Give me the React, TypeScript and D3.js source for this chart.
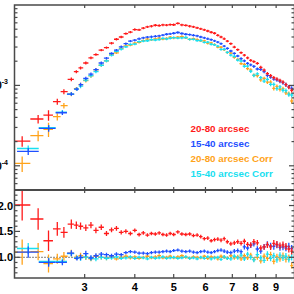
import * as d3 from "d3";

const W = 294;
const H = 294;
const FLUX_UNIT = 1e-3;

// energies (keV) shared by every spectrum above ~2.9 keV
const energyGrid = [
  2.93, 3.02, 3.11, 3.2, 3.3, 3.4, 3.5, 3.6, 3.7, 3.8, 3.9,
  4.0, 4.1, 4.2, 4.3, 4.4, 4.5, 4.6, 4.7, 4.8, 4.9,
  5.0, 5.12, 5.24, 5.36, 5.48, 5.6, 5.72, 5.84, 5.96,
  6.08, 6.2, 6.32, 6.44, 6.56, 6.68, 6.8,
  6.94, 7.08, 7.22, 7.36, 7.5, 7.64, 7.78, 7.92,
  8.08, 8.24, 8.4, 8.56, 8.72, 8.88, 9.04, 9.2, 9.36, 9.52, 9.68, 9.84,
];

// wide low-energy bins (different for the two extraction regions)
const lowEnergy2080 = [2.096, 2.297, 2.438, 2.564, 2.663, 2.779, 2.86];
const lowEnergy1540 = [2.17, 2.44, 2.64, 2.78, 2.87];

// 20-80 arcsec (red)
const lowFluxRed = [0.203, 0.382, 0.428, 0.627, 0.835, 1.19, 1.48];
const lowRatioRed = [2.01, 1.74, 1.32, 1.55, 1.48, 1.64, 1.62];
const lowErrRed = [0.15, 0.12, 0.15, 0.085, 0.07, 0.055, 0.045];
const fluxRed = [
  1.65, 1.9, 2.2, 2.42, 2.75, 2.95, 3.35, 3.75, 4.0, 4.4, 4.6,
  4.95, 4.9, 5.15, 5.35, 5.45, 5.6, 5.55, 5.65, 5.62, 5.7,
  5.68, 5.9, 5.65, 5.58, 5.45, 5.35, 5.2, 5.05, 4.9,
  4.75, 4.58, 4.45, 4.2, 4.0, 3.8, 3.55,
  3.3, 3.0, 2.78, 2.55, 2.38, 2.2, 2.05, 1.98,
  1.88, 1.68, 1.55, 1.4, 1.32, 1.25, 1.2, 1.15, 1.1, 1.02, 0.95, 0.87,
];
const ratioRed = [
  1.6, 1.57, 1.62, 1.52, 1.58, 1.46, 1.53, 1.56, 1.48, 1.5, 1.46,
  1.52, 1.44, 1.47, 1.43, 1.46, 1.45, 1.47, 1.44, 1.43, 1.46,
  1.44, 1.49, 1.45, 1.44, 1.45, 1.42, 1.43, 1.4, 1.36,
  1.37, 1.32, 1.34, 1.35, 1.33, 1.36, 1.3,
  1.26, 1.28, 1.3, 1.27, 1.31, 1.25, 1.24, 1.3,
  1.28, 1.18, 1.2, 1.24, 1.2, 1.27, 1.25, 1.22, 1.24, 1.21, 1.16, 1.12,
];

// 15-40 arcsec (blue)
const lowFluxBlue = [0.151, 0.292, 0.457, 0.781, 0.9];
const lowRatioBlue = [1.1, 0.9, 0.9, 1.08, 0.98];
const lowErrBlue = [0.1, 0.09, 0.06, 0.05, 0.045];
const fluxBlue = [
  1.02, 1.22, 1.38, 1.57, 1.9, 2.18, 2.5, 2.75, 3.02, 3.3, 3.55,
  3.65, 3.8, 3.9, 3.98, 4.02, 4.08, 4.12, 4.22, 4.33, 4.38,
  4.45, 4.55, 4.42, 4.33, 4.28, 4.2, 4.12, 4.0, 3.9,
  3.8, 3.7, 3.58, 3.45, 3.3, 3.08, 2.88,
  2.68, 2.5, 2.32, 2.15, 2.02, 1.88, 1.8, 1.72,
  1.6, 1.58, 1.48, 1.33, 1.27, 1.2, 1.17, 1.12, 1.08, 1.02, 0.96, 0.92,
];
const ratioBlue = [
  1.0, 1.07, 0.99, 1.03, 1.06, 1.05, 1.03, 1.06, 1.05, 1.09, 1.11,
  1.1, 1.08, 1.08, 1.07, 1.09, 1.1, 1.1, 1.11, 1.12, 1.11,
  1.13, 1.14, 1.12, 1.11, 1.12, 1.1, 1.09, 1.11, 1.12,
  1.1, 1.09, 1.11, 1.13, 1.14, 1.12, 1.1,
  1.09, 1.12, 1.13, 1.11, 1.2, 1.18, 1.23, 1.26,
  1.16, 1.12, 1.2, 1.25, 1.22, 1.21, 1.24, 1.19, 1.2, 1.18, 1.21, 1.17,
];

// 20-80 arcsec Corr (orange)
const lowFluxOrange = [0.107, 0.237, 0.285, 0.408, 0.56, 0.78, 0.91];
const lowRatioOrange = [1.1, 1.11, 0.88, 0.97, 1.02, 1.08, 1.0];
const lowErrOrange = [0.22, 0.15, 0.2, 0.1, 0.08, 0.06, 0.05];
const fluxOrange = [
  1.02, 1.15, 1.31, 1.56, 1.78, 2.02, 2.42, 2.54, 2.88, 3.11, 3.17,
  3.36, 3.43, 3.6, 3.77, 3.68, 3.78, 3.87, 3.76, 3.85, 3.98,
  3.89, 3.99, 4.05, 3.9, 3.74, 3.82, 3.72, 3.58, 3.57,
  3.35, 3.38, 3.22, 2.99, 2.98, 2.78, 2.57,
  2.52, 2.23, 2.1, 1.87, 1.83, 1.62, 1.56, 1.34,
  1.32, 1.17, 1.22, 1.1, 1.1, 0.92, 0.97, 0.89, 0.91, 0.81, 0.79, 0.64,
];
const ratioOrange = [
  1.03, 1.0, 0.97, 1.02, 1.0, 0.98, 1.01, 0.97, 1.0, 1.02, 0.99,
  1.01, 0.98, 1.0, 1.02, 0.99, 1.01, 1.03, 0.99, 1.0, 1.02,
  0.99, 1.01, 1.03, 1.0, 0.98, 1.01, 1.0, 0.99, 1.02,
  0.98, 1.01, 1.0, 0.97, 1.02, 1.0, 0.98,
  1.03, 0.99, 1.01, 0.97, 1.03, 0.99, 1.04, 0.96,
  1.0, 0.93, 1.02, 0.98, 1.05, 0.92, 1.01, 0.97, 1.03, 0.96, 0.99, 0.84,
];

// 15-40 arcsec Corr (cyan)
const lowFluxCyan = [0.164, 0.298, 0.465, 0.78, 0.9];
const lowRatioCyan = [1.17, 0.92, 0.92, 1.07, 0.99];
const lowErrCyan = [0.09, 0.08, 0.06, 0.05, 0.045];
const fluxCyan = [
  0.98, 1.16, 1.32, 1.48, 1.78, 2.02, 2.38, 2.65, 2.82, 3.02, 3.23,
  3.26, 3.5, 3.56, 3.59, 3.72, 3.67, 3.72, 3.84, 3.77, 3.86,
  3.93, 3.87, 3.89, 3.94, 3.74, 3.74, 3.61, 3.62, 3.43,
  3.45, 3.25, 3.19, 3.08, 2.8, 2.81, 2.57,
  2.38, 2.3, 2.06, 2.01, 1.73, 1.74, 1.5, 1.33,
  1.39, 1.25, 1.13, 1.19, 1.03, 1.03, 0.91, 0.96, 0.87, 0.86, 0.77, 0.76,
];
const ratioCyan = [
  0.99, 1.01, 0.98, 0.97, 1.0, 0.98, 0.99, 1.01, 0.98, 0.99, 1.01,
  0.98, 1.0, 0.99, 0.97, 1.0, 0.98, 0.99, 1.01, 0.98, 0.99,
  1.0, 0.98, 0.99, 1.01, 0.98, 0.99, 0.97, 1.0, 0.98,
  1.01, 0.97, 0.99, 1.0, 0.96, 1.01, 0.98,
  0.97, 1.02, 0.99, 1.04, 0.97, 1.06, 1.0, 0.95,
  1.05, 0.99, 0.94, 1.06, 0.98, 1.03, 0.95, 1.04, 0.99, 1.02, 0.96, 1.0,
];

const labels = ["20-80 arcsec", "15-40 arcsec", "20-80 arcsec Corr", "15-40 arcsec Corr"];
const colors = ["#ff1a1a", "#1f50ff", "#ffa31a", "#19e0f0"];
const xTickValues = [3, 4, 5, 6, 7, 8, 9];

type Pt = { e: number; lo: number; hi: number; v: number; r: number; err: number };

function buildSeries(
  lowE: number[], lowF: number[], lowR: number[], lowErr: number[],
  gridF: number[], gridR: number[]
): Pt[] {
  const e = [...lowE, ...energyGrid];
  const f = [...lowF, ...gridF].map((d) => d * FLUX_UNIT);
  const r = [...lowR, ...gridR];
  return e.map((d, i) => {
    const prev = i > 0 ? e[i - 1] : d - (e[i + 1] - d);
    const next = i < e.length - 1 ? e[i + 1] : d + (d - e[i - 1]);
    // counting-statistics error for the narrow bins
    const err = i < lowE.length ? lowErr[i] : 0.028 * Math.sqrt(4e-3 / f[i]);
    return { e: d, lo: (prev + d) / 2, hi: (next + d) / 2, v: f[i], r: r[i], err };
  });
}

const series = [
  buildSeries(lowEnergy2080, lowFluxRed, lowRatioRed, lowErrRed, fluxRed, ratioRed),
  buildSeries(lowEnergy1540, lowFluxBlue, lowRatioBlue, lowErrBlue, fluxBlue, ratioBlue),
  buildSeries(lowEnergy2080, lowFluxOrange, lowRatioOrange, lowErrOrange, fluxOrange, ratioOrange),
  buildSeries(lowEnergy1540, lowFluxCyan, lowRatioCyan, lowErrCyan, fluxCyan, ratioCyan),
];
const drawOrder = [2, 3, 1, 0];

const left = 14.5;
const right = 294.5;
const top = 5;
const mid = 190;
const bottom = 278;

const x = d3.scaleLog().domain([2, 10]).range([14, 294.5]);
const yTop = d3.scaleLog().domain([5e-5, 1e-2]).range([mid, top]);
const yBot = d3.scaleLinear().domain([0.6, 2.3]).range([bottom, mid]);

const axisColor = "#4a4a4a";
const font = "'Liberation Sans', Arial, Helvetica, sans-serif";

function Crosses({ pts, color, panel }: { pts: Pt[]; color: string; panel: "top" | "bot" }) {
  return (
    <g stroke={color} strokeWidth={1.3}>
      {pts.map((p, i) => {
        let yc: number, y1: number, y2: number;
        if (panel === "top") {
          yc = yTop(p.v);
          y1 = yTop(p.v * (1 + p.err));
          y2 = yTop(p.v * (1 - p.err));
        } else {
          yc = yBot(p.r);
          y1 = yBot(p.r * (1 + p.err));
          y2 = yBot(p.r * (1 - p.err));
        }
        y1 = Math.min(y1, yc - 1.2);
        y2 = Math.max(y2, yc + 1.2);
        const xc = x(p.e);
        return (
          <g key={i}>
            <line x1={x(p.lo)} x2={x(p.hi)} y1={yc} y2={yc} />
            <line x1={xc} x2={xc} y1={y1} y2={y2} />
          </g>
        );
      })}
    </g>
  );
}

export default function App() {
  const topTicks = yTop.ticks();
  const botTicks = d3.range(6, 24).map((d) => d / 10);
  const isMajorLog = (t: number) => Math.abs(Math.log10(t) - Math.round(Math.log10(t))) < 1e-6;

  return (
    <svg
      width={W}
      height={H}
      style={{ position: "absolute", left: 0, top: 0, background: "#fff" }}
      fontFamily={font}
      fontWeight="bold"
    >
      <defs>
        <clipPath id="clipTop">
          <rect x={left} y={top} width={right - left} height={mid - top} />
        </clipPath>
        <clipPath id="clipBot">
          <rect x={left} y={mid} width={right - left} height={bottom - mid} />
        </clipPath>
      </defs>

      {/* ratio = 1 reference */}
      <line
        x1={left}
        x2={right}
        y1={yBot(1)}
        y2={yBot(1)}
        stroke="#000"
        strokeWidth={1}
        strokeDasharray="1,2"
      />

      <g clipPath="url(#clipTop)">
        {drawOrder.map((k) => (
          <Crosses key={k} pts={series[k]} color={colors[k]} panel="top" />
        ))}
      </g>
      <g clipPath="url(#clipBot)">
        {drawOrder.map((k) => (
          <Crosses key={k} pts={series[k]} color={colors[k]} panel="bot" />
        ))}
      </g>

      {/* frames */}
      <g fill="none" stroke={axisColor} strokeWidth={1.5}>
        <rect x={left} y={top} width={right - left} height={bottom - top} />
        <line x1={left} x2={right} y1={mid} y2={mid} strokeWidth={1.8} />
      </g>

      {/* x ticks */}
      <g stroke={axisColor} strokeWidth={1.2}>
        {xTickValues.map((t) => (
          <g key={t}>
            <line x1={x(t)} x2={x(t)} y1={top} y2={top + 3} />
            <line x1={x(t)} x2={x(t)} y1={mid} y2={mid - 3} />
            <line x1={x(t)} x2={x(t)} y1={mid} y2={mid + 3} />
            <line x1={x(t)} x2={x(t)} y1={bottom} y2={bottom - 4} />
          </g>
        ))}
      </g>
      <g fontSize={11} textAnchor="middle" fill="#000">
        {xTickValues.map((t) => (
          <text key={t} x={x(t)} y={291}>
            {t}
          </text>
        ))}
      </g>

      {/* top panel y ticks */}
      <g stroke={axisColor} strokeWidth={1.2}>
        {topTicks
          .filter((t) => yTop(t) > top + 0.5 && yTop(t) < mid - 0.5)
          .map((t, i) => {
            const len = isMajorLog(t) ? 5.5 : 3;
            return (
              <g key={i}>
                <line x1={left} x2={left + len} y1={yTop(t)} y2={yTop(t)} />
                <line x1={right} x2={right - len} y1={yTop(t)} y2={yTop(t)} />
              </g>
            );
          })}
      </g>
      <g fontSize={11} textAnchor="end" fill="#000">
        {[1e-4, 1e-3].map((t) => (
          <text key={t} x={8} y={yTop(t) + 4}>
            10
            <tspan fontSize={7} dy={-5}>
              {Math.round(Math.log10(t))}
            </tspan>
          </text>
        ))}
      </g>

      {/* bottom panel y ticks */}
      <g stroke={axisColor} strokeWidth={1.2}>
        {botTicks
          .filter((t) => yBot(t) > mid + 0.5 && yBot(t) < bottom - 0.5)
          .map((t, i) => {
            const major = Math.round(t * 10) % 5 === 0;
            const len = major ? 5.5 : 3;
            return (
              <g key={i}>
                <line x1={left} x2={left + len} y1={yBot(t)} y2={yBot(t)} />
                <line x1={right} x2={right - len} y1={yBot(t)} y2={yBot(t)} />
              </g>
            );
          })}
      </g>
      <g fontSize={11} textAnchor="end" fill="#000">
        {[1.0, 1.5, 2.0].map((t) => (
          <text key={t} x={13} y={yBot(t) + 4}>
            {t.toFixed(1)}
          </text>
        ))}
      </g>

      {/* legend */}
      <g fontSize={9.8}>
        {labels.map((l, i) => (
          <text key={l} x={190.5} y={131.5 + i * 15.3} fill={colors[i]}>
            {l}
          </text>
        ))}
      </g>
    </svg>
  );
}
